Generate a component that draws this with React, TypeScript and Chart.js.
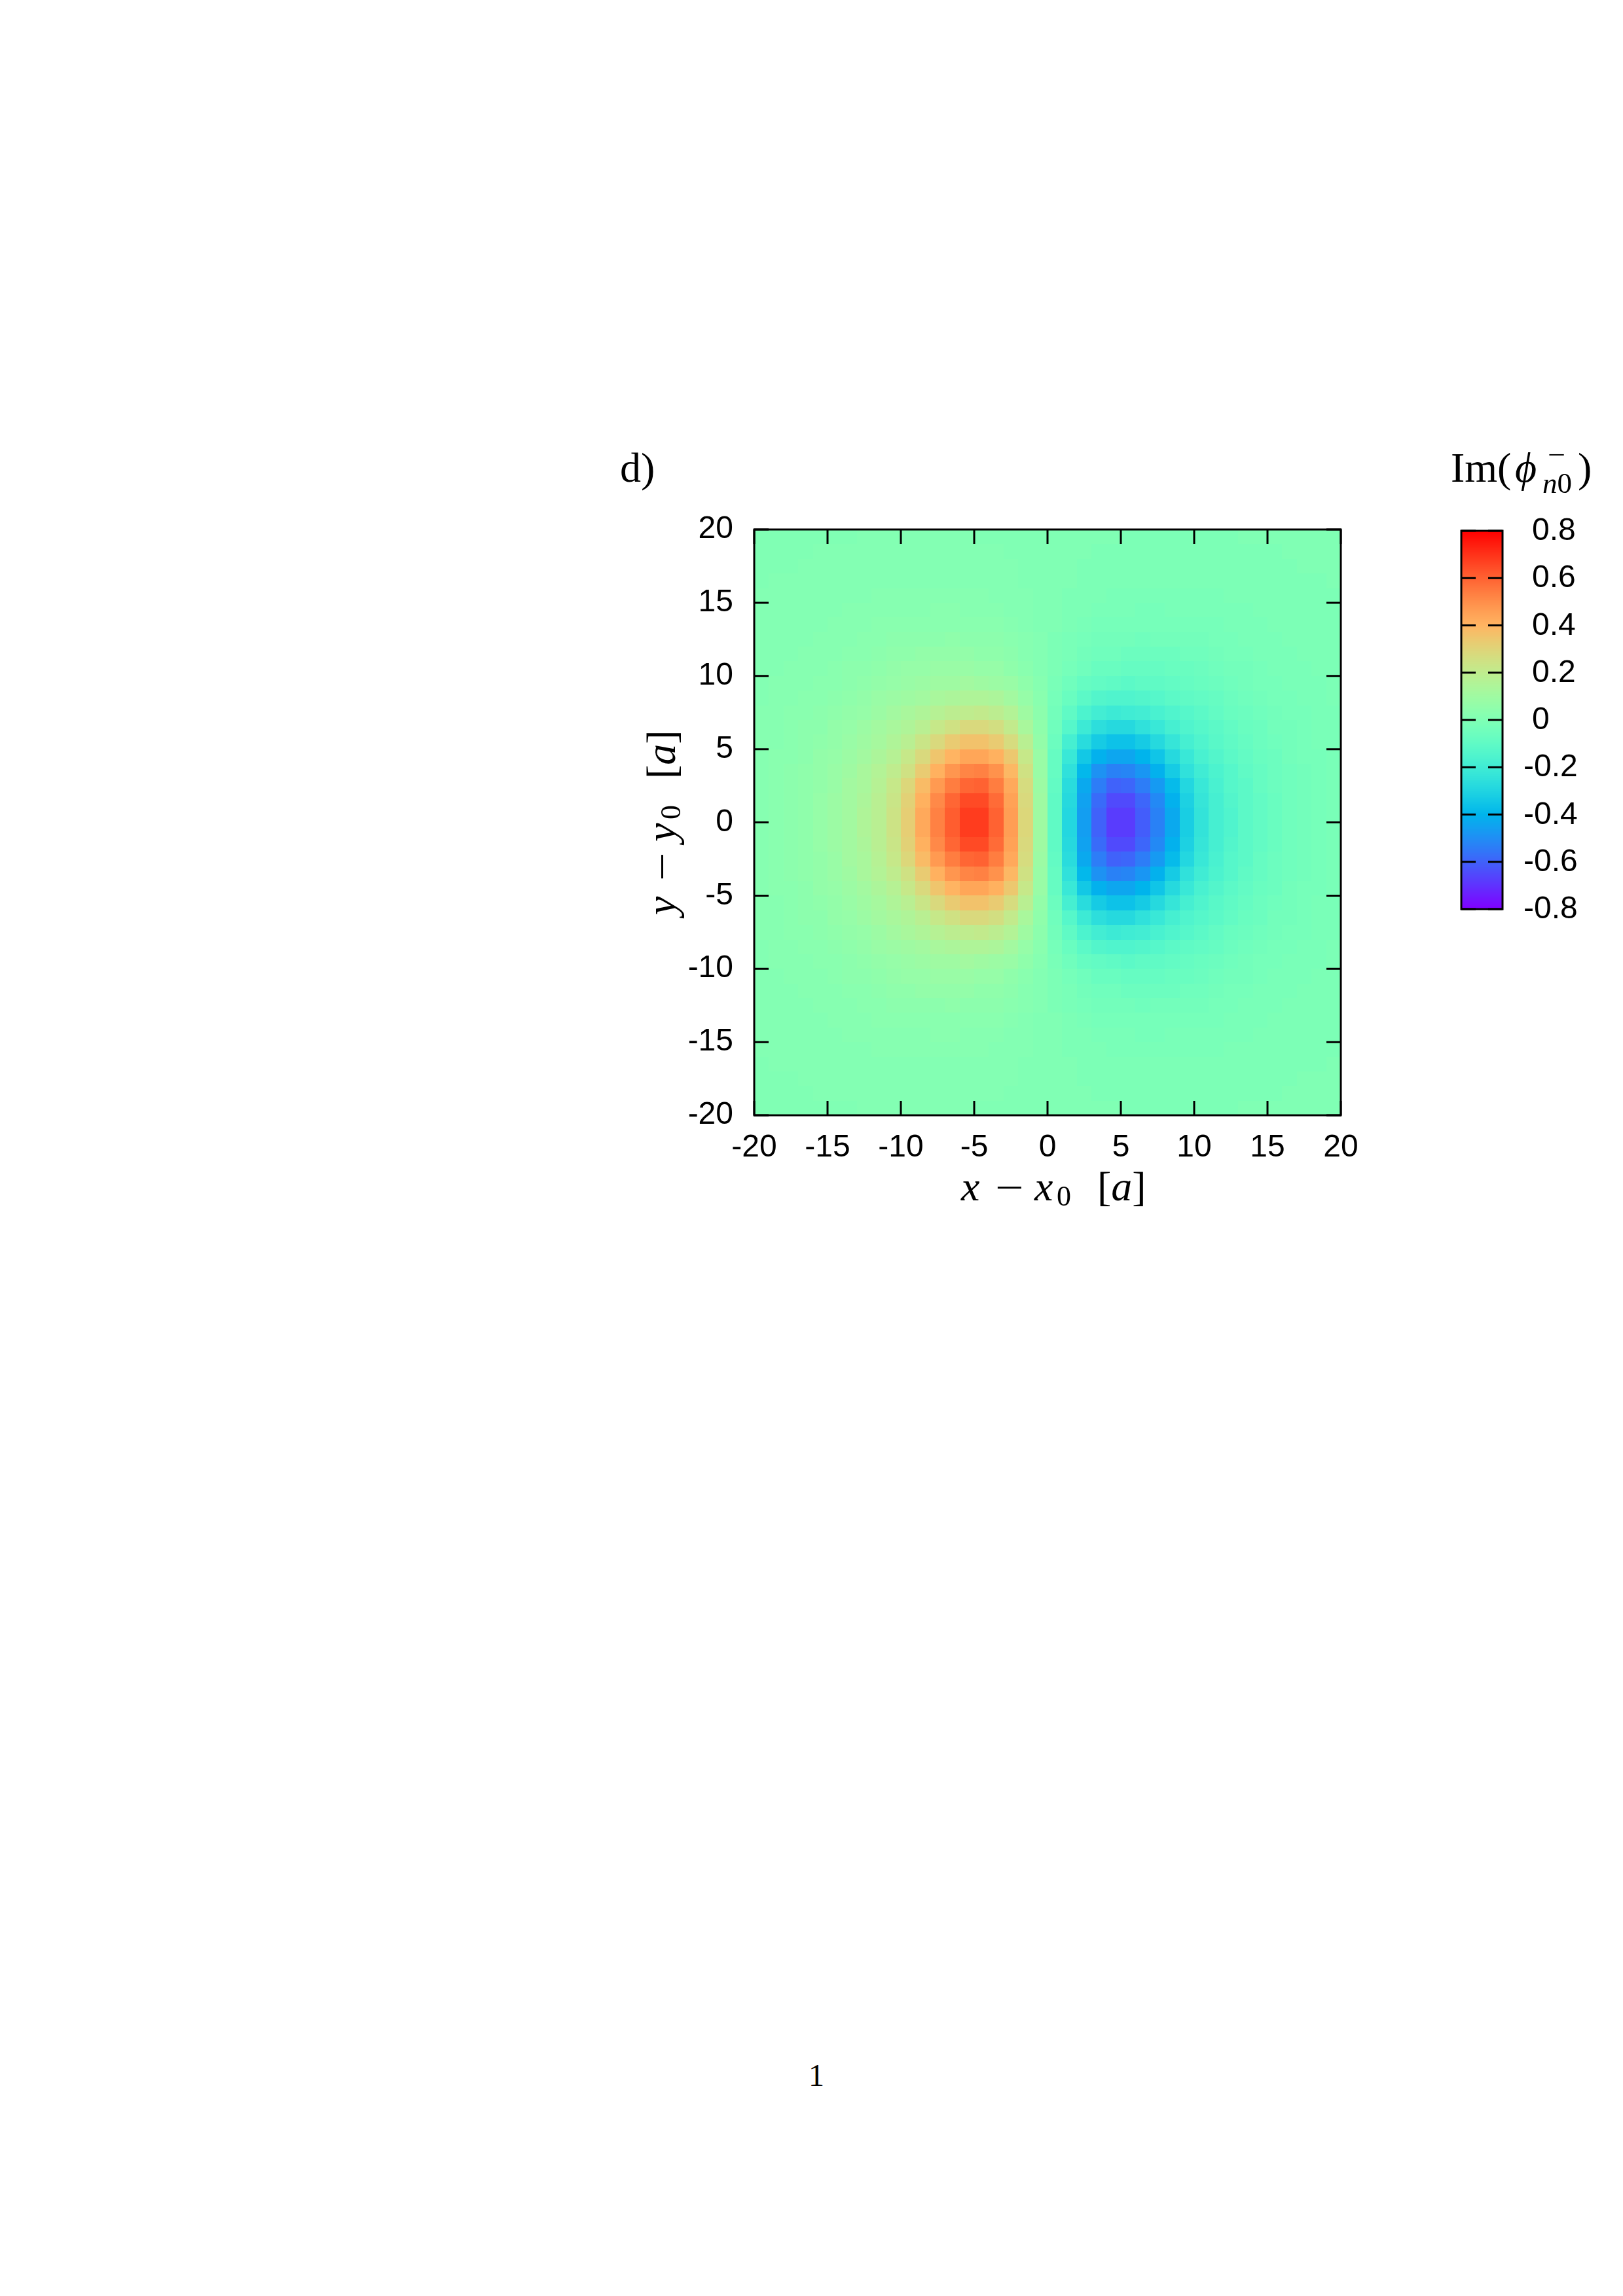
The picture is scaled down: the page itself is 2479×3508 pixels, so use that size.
import React, { useEffect, useRef } from "react";
import { Chart, registerables } from "chart.js";

Chart.register(...registerables);

// ---------------- data ----------------
// cell centres (units of a)
const X_CENTERS = [
  -19.5, -18.5, -17.5, -16.5, -15.5, -14.5, -13.5, -12.5, -11.5, -10.5,
  -9.5, -8.5, -7.5, -6.5, -5.5, -4.5, -3.5, -2.5, -1.5, -0.5,
  0.5, 1.5, 2.5, 3.5, 4.5, 5.5, 6.5, 7.5, 8.5, 9.5,
  10.5, 11.5, 12.5, 13.5, 14.5, 15.5, 16.5, 17.5, 18.5, 19.5,
];
const Y_CENTERS = [
  19.5, 18.5, 17.5, 16.5, 15.5, 14.5, 13.5, 12.5, 11.5, 10.5,
  9.5, 8.5, 7.5, 6.5, 5.5, 4.5, 3.5, 2.5, 1.5, 0.5,
  -0.5, -1.5, -2.5, -3.5, -4.5, -5.5, -6.5, -7.5, -8.5, -9.5,
  -10.5, -11.5, -12.5, -13.5, -14.5, -15.5, -16.5, -17.5, -18.5, -19.5,
];
// Im(phi) in hundredths, one row per Y_CENTERS entry, columns follow X_CENTERS
const IM_PHI_ROWS = [
  [0,0,0,0,0,0,0,1,1,1,1,1,1,1,1,0,0,0,0,0, 0,0,0,0,0,-1,-1,-1,-1,-1,-1,-1,-1,0,0,0,0,0,0,0],
  [0,0,0,0,1,1,1,1,1,1,1,1,1,1,1,1,1,0,0,0, 0,0,0,-1,-1,-1,-1,-1,-1,-1,-1,-1,-1,-1,-1,-1,0,0,0,0],
  [0,0,0,1,1,1,1,1,1,1,1,1,1,1,1,1,1,1,0,0, 0,0,-1,-1,-1,-1,-1,-1,-1,-1,-1,-1,-1,-1,-1,-1,-1,0,0,0],
  [0,1,1,1,1,1,1,1,1,1,1,1,1,1,1,1,1,1,0,0, 0,0,-1,-1,-1,-1,-1,-1,-1,-1,-1,-1,-1,-1,-1,-1,-1,-1,-1,0],
  [1,1,1,1,1,1,1,1,2,2,2,2,2,2,2,2,1,1,1,0, 0,-1,-1,-1,-2,-2,-2,-2,-2,-2,-2,-2,-1,-1,-1,-1,-1,-1,-1,-1],
  [1,1,1,1,1,1,2,2,2,2,2,2,3,3,2,2,2,1,1,0, 0,-1,-1,-2,-2,-2,-3,-3,-2,-2,-2,-2,-2,-2,-1,-1,-1,-1,-1,-1],
  [1,1,1,1,1,2,2,2,3,3,3,3,3,3,3,3,3,2,1,0, 0,-1,-2,-3,-3,-3,-3,-3,-3,-3,-3,-3,-2,-2,-2,-1,-1,-1,-1,-1],
  [1,1,1,1,2,2,2,3,3,4,4,4,4,5,4,4,4,3,2,1, -1,-2,-3,-4,-4,-4,-5,-4,-4,-4,-4,-3,-3,-2,-2,-2,-1,-1,-1,-1],
  [1,1,1,2,2,2,3,3,4,5,5,6,6,6,6,5,5,4,2,1, -1,-2,-4,-5,-5,-6,-6,-6,-6,-5,-5,-4,-3,-3,-2,-2,-2,-1,-1,-1],
  [1,1,2,2,2,3,4,4,5,6,7,7,8,8,8,7,7,5,3,1, -1,-3,-5,-7,-7,-8,-8,-8,-7,-7,-6,-5,-4,-4,-3,-2,-2,-2,-1,-1],
  [1,2,2,2,3,3,4,5,6,7,8,9,10,10,11,10,9,8,5,2, -2,-5,-8,-9,-10,-11,-10,-10,-9,-8,-7,-6,-5,-4,-3,-3,-2,-2,-2,-1],
  [1,2,2,3,3,4,5,6,8,9,10,11,13,14,15,15,14,11,7,3, -3,-7,-11,-14,-15,-15,-14,-13,-11,-10,-9,-8,-6,-5,-4,-3,-3,-2,-2,-1],
  [2,2,3,3,4,5,6,7,9,11,13,15,17,19,20,21,19,16,10,4, -4,-10,-16,-19,-21,-20,-19,-17,-15,-13,-11,-9,-7,-6,-5,-4,-3,-3,-2,-2],
  [2,2,3,4,4,6,7,9,11,13,15,18,22,25,28,28,26,21,13,5, -5,-13,-21,-26,-28,-28,-25,-22,-18,-15,-13,-11,-9,-7,-6,-4,-4,-3,-2,-2],
  [2,2,3,4,5,6,8,10,12,15,18,23,28,33,36,36,33,27,18,6, -6,-18,-27,-33,-36,-36,-33,-28,-23,-18,-15,-12,-10,-8,-6,-5,-4,-3,-2,-2],
  [2,3,3,4,6,7,9,11,14,17,22,28,35,40,44,44,41,34,22,8, -8,-22,-34,-41,-44,-44,-40,-35,-28,-22,-17,-14,-11,-9,-7,-6,-4,-3,-3,-2],
  [2,3,4,5,6,8,10,13,16,20,25,33,41,48,52,53,49,39,25,8, -8,-25,-39,-49,-53,-52,-48,-41,-33,-25,-20,-16,-13,-10,-8,-6,-5,-4,-3,-2],
  [2,3,4,5,6,8,11,13,17,22,29,38,47,54,59,60,54,43,27,9, -9,-27,-43,-54,-60,-59,-54,-47,-38,-29,-22,-17,-13,-11,-8,-6,-5,-4,-3,-2],
  [2,3,4,5,7,9,11,14,18,23,31,41,51,59,65,65,58,45,28,10, -10,-28,-45,-58,-65,-65,-59,-51,-41,-31,-23,-18,-14,-11,-9,-7,-5,-4,-3,-2],
  [2,3,4,5,7,9,11,15,18,24,32,43,53,61,68,68,60,46,29,10, -10,-29,-46,-60,-68,-68,-61,-53,-43,-32,-24,-18,-15,-11,-9,-7,-5,-4,-3,-2],
  [2,3,4,5,7,9,11,15,18,24,32,43,53,61,68,68,60,46,29,10, -10,-29,-46,-60,-68,-68,-61,-53,-43,-32,-24,-18,-15,-11,-9,-7,-5,-4,-3,-2],
  [2,3,4,5,7,9,11,14,18,23,31,41,51,59,65,65,58,45,28,10, -10,-28,-45,-58,-65,-65,-59,-51,-41,-31,-23,-18,-14,-11,-9,-7,-5,-4,-3,-2],
  [2,3,4,5,6,8,11,13,17,22,29,38,47,54,59,60,54,43,27,9, -9,-27,-43,-54,-60,-59,-54,-47,-38,-29,-22,-17,-13,-11,-8,-6,-5,-4,-3,-2],
  [2,3,4,5,6,8,10,13,16,20,25,33,41,48,52,53,49,39,25,8, -8,-25,-39,-49,-53,-52,-48,-41,-33,-25,-20,-16,-13,-10,-8,-6,-5,-4,-3,-2],
  [2,3,3,4,6,7,9,11,14,17,22,28,35,40,44,44,41,34,22,8, -8,-22,-34,-41,-44,-44,-40,-35,-28,-22,-17,-14,-11,-9,-7,-6,-4,-3,-3,-2],
  [2,2,3,4,5,6,8,10,12,15,18,23,28,33,36,36,33,27,18,6, -6,-18,-27,-33,-36,-36,-33,-28,-23,-18,-15,-12,-10,-8,-6,-5,-4,-3,-2,-2],
  [2,2,3,4,4,6,7,9,11,13,15,18,22,25,28,28,26,21,13,5, -5,-13,-21,-26,-28,-28,-25,-22,-18,-15,-13,-11,-9,-7,-6,-4,-4,-3,-2,-2],
  [2,2,3,3,4,5,6,7,9,11,13,15,17,19,20,21,19,16,10,4, -4,-10,-16,-19,-21,-20,-19,-17,-15,-13,-11,-9,-7,-6,-5,-4,-3,-3,-2,-2],
  [1,2,2,3,3,4,5,6,8,9,10,11,13,14,15,15,14,11,7,3, -3,-7,-11,-14,-15,-15,-14,-13,-11,-10,-9,-8,-6,-5,-4,-3,-3,-2,-2,-1],
  [1,2,2,2,3,3,4,5,6,7,8,9,10,10,11,10,9,8,5,2, -2,-5,-8,-9,-10,-11,-10,-10,-9,-8,-7,-6,-5,-4,-3,-3,-2,-2,-2,-1],
  [1,1,2,2,2,3,4,4,5,6,7,7,8,8,8,7,7,5,3,1, -1,-3,-5,-7,-7,-8,-8,-8,-7,-7,-6,-5,-4,-4,-3,-2,-2,-2,-1,-1],
  [1,1,1,2,2,2,3,3,4,5,5,6,6,6,6,5,5,4,2,1, -1,-2,-4,-5,-5,-6,-6,-6,-6,-5,-5,-4,-3,-3,-2,-2,-2,-1,-1,-1],
  [1,1,1,1,2,2,2,3,3,4,4,4,4,5,4,4,4,3,2,1, -1,-2,-3,-4,-4,-4,-5,-4,-4,-4,-4,-3,-3,-2,-2,-2,-1,-1,-1,-1],
  [1,1,1,1,1,2,2,2,3,3,3,3,3,3,3,3,3,2,1,0, 0,-1,-2,-3,-3,-3,-3,-3,-3,-3,-3,-3,-2,-2,-2,-1,-1,-1,-1,-1],
  [1,1,1,1,1,1,2,2,2,2,2,2,3,3,2,2,2,1,1,0, 0,-1,-1,-2,-2,-2,-3,-3,-2,-2,-2,-2,-2,-2,-1,-1,-1,-1,-1,-1],
  [1,1,1,1,1,1,1,1,2,2,2,2,2,2,2,2,1,1,1,0, 0,-1,-1,-1,-2,-2,-2,-2,-2,-2,-2,-2,-1,-1,-1,-1,-1,-1,-1,-1],
  [0,1,1,1,1,1,1,1,1,1,1,1,1,1,1,1,1,1,0,0, 0,0,-1,-1,-1,-1,-1,-1,-1,-1,-1,-1,-1,-1,-1,-1,-1,-1,-1,0],
  [0,0,0,1,1,1,1,1,1,1,1,1,1,1,1,1,1,1,0,0, 0,0,-1,-1,-1,-1,-1,-1,-1,-1,-1,-1,-1,-1,-1,-1,-1,0,0,0],
  [0,0,0,0,1,1,1,1,1,1,1,1,1,1,1,1,1,0,0,0, 0,0,0,-1,-1,-1,-1,-1,-1,-1,-1,-1,-1,-1,-1,-1,0,0,0,0],
  [0,0,0,0,0,0,0,1,1,1,1,1,1,1,1,0,0,0,0,0, 0,0,0,0,0,-1,-1,-1,-1,-1,-1,-1,-1,0,0,0,0,0,0,0],
];
const VALUE_UNIT = 0.01;
const CELL_SIZE = 1;
const AXIS_TICKS = [-20, -15, -10, -5, 0, 5, 10, 15, 20];
const CB_TICKS = [0.8, 0.6, 0.4, 0.2, 0, -0.2, -0.4, -0.6, -0.8];
const CB_MIN = -0.8;
const CB_MAX = 0.8;

// ---------------- styling ----------------
const SERIF = "'Liberation Serif', 'DejaVu Serif', serif";
const SANS = "'Liberation Sans', Arial, sans-serif";
const TICK_FONT = 48;
const TICK_LEN = 22;

// gnuplot rgbformulae 33,13,10
function paletteColor(v: number): string {
  let t = (v - CB_MIN) / (CB_MAX - CB_MIN);
  t = Math.max(0, Math.min(1, t));
  const r = Math.min(1, Math.abs(2 * t - 0.5));
  const g = Math.max(0, Math.min(1, Math.sin(Math.PI * t)));
  const b = Math.max(0, Math.min(1, Math.cos((Math.PI * t) / 2)));
  return `rgb(${Math.round(r * 255)},${Math.round(g * 255)},${Math.round(b * 255)})`;
}

const heatmapPlugin = {
  id: "heatmapCells",
  afterDatasetsDraw(chart: any) {
    const { ctx, chartArea: a } = chart;
    const xs = chart.scales.x;
    const ys = chart.scales.y;
    ctx.save();
    for (const c of chart.data.datasets[0].data) {
      const x0 = Math.round(xs.getPixelForValue(c.x - CELL_SIZE / 2));
      const x1 = Math.round(xs.getPixelForValue(c.x + CELL_SIZE / 2));
      const y0 = Math.round(ys.getPixelForValue(c.y + CELL_SIZE / 2));
      const y1 = Math.round(ys.getPixelForValue(c.y - CELL_SIZE / 2));
      ctx.fillStyle = paletteColor(c.v);
      ctx.fillRect(x0, y0, x1 - x0, y1 - y0);
    }
    ctx.strokeStyle = "#000";
    ctx.lineWidth = 3;
    ctx.strokeRect(a.left, a.top, a.right - a.left, a.bottom - a.top);
    ctx.beginPath();
    for (const t of xs.ticks) {
      const px = xs.getPixelForValue(t.value);
      ctx.moveTo(px, a.bottom);
      ctx.lineTo(px, a.bottom - TICK_LEN);
      ctx.moveTo(px, a.top);
      ctx.lineTo(px, a.top + TICK_LEN);
    }
    for (const t of ys.ticks) {
      const py = ys.getPixelForValue(t.value);
      ctx.moveTo(a.left, py);
      ctx.lineTo(a.left + TICK_LEN, py);
      ctx.moveTo(a.right, py);
      ctx.lineTo(a.right - TICK_LEN, py);
    }
    ctx.stroke();
    ctx.restore();
  },
};

const colorbarPlugin = {
  id: "colorbarDraw",
  afterDatasetsDraw(chart: any) {
    const { ctx, chartArea: a } = chart;
    const ys = chart.scales.y;
    ctx.save();
    for (let py = Math.floor(a.top); py < Math.ceil(a.bottom); py++) {
      ctx.fillStyle = paletteColor(ys.getValueForPixel(py + 0.5));
      ctx.fillRect(a.left, py, a.right - a.left, 1);
    }
    ctx.strokeStyle = "#000";
    ctx.lineWidth = 3;
    ctx.strokeRect(a.left, a.top, a.right - a.left, a.bottom - a.top);
    ctx.beginPath();
    for (const v of CB_TICKS) {
      const py = ys.getPixelForValue(v);
      ctx.moveTo(a.left, py);
      ctx.lineTo(a.left + TICK_LEN, py);
      ctx.moveTo(a.right, py);
      ctx.lineTo(a.right - TICK_LEN, py);
    }
    ctx.stroke();
    ctx.font = `${TICK_FONT}px ${SANS}`;
    ctx.fillStyle = "#000";
    ctx.textBaseline = "middle";
    ctx.textAlign = "left";
    for (const v of CB_TICKS) {
      const py = ys.getPixelForValue(v);
      const label = v === 0 ? "0" : v.toFixed(1);
      ctx.fillText(label, a.right + (v < 0 ? 32 : 45), py + 1);
    }
    ctx.restore();
  },
};

function Txt(props: any) {
  const { left, baseline, size, italic, children, family, style } = props;
  const fam = family || SERIF;
  const asc = fam === SANS ? 0.8465 : 0.8375;
  return (
    <div
      style={{
        position: "absolute",
        left,
        top: baseline - asc * size,
        fontSize: size,
        lineHeight: `${size}px`,
        fontFamily: fam,
        fontStyle: italic ? "italic" : "normal",
        whiteSpace: "nowrap",
        color: "#000",
        ...(style || {}),
      }}
    >
      {children}
    </div>
  );
}

function AxisLabel(props: any) {
  const { v, style } = props;
  const base = 55;
  return (
    <div style={{ position: "absolute", width: 300, height: 75, ...style }}>
      <Txt left={0} baseline={base} size={64} italic>{v}</Txt>
      <Txt
        left={52}
        baseline={base}
        size={62}
        style={{ transform: "scaleX(1.25)", transformOrigin: "0 0" }}
      >
        {"\u2212"}
      </Txt>
      <Txt left={112} baseline={base} size={64} italic>{v}</Txt>
      <Txt left={146} baseline={base + 8} size={44}>0</Txt>
      <Txt left={208} baseline={base} size={64}>
        [<i>a</i>]
      </Txt>
    </div>
  );
}

export default function App() {
  const mainRef = useRef<HTMLCanvasElement>(null);
  const cbRef = useRef<HTMLCanvasElement>(null);

  useEffect(() => {
    const cells: any[] = [];
    IM_PHI_ROWS.forEach((row, j) =>
      row.forEach((val, i) => {
        cells.push({ x: X_CENTERS[i], y: Y_CENTERS[j], v: val * VALUE_UNIT });
      })
    );
    const tickFont = { family: SANS, size: TICK_FONT };
    const main = new Chart(mainRef.current as HTMLCanvasElement, {
      type: "scatter",
      data: { datasets: [{ data: cells, pointRadius: 0, pointHoverRadius: 0 }] },
      options: {
        animation: false,
        responsive: false,
        events: [],
        layout: { padding: { top: 109, left: 0, right: 52, bottom: 0 } },
        plugins: { legend: { display: false }, tooltip: { enabled: false } },
        scales: {
          x: {
            type: "linear",
            min: -20,
            max: 20,
            grid: { display: false, drawTicks: false },
            border: { display: false },
            afterBuildTicks: (s: any) => {
              s.ticks = AXIS_TICKS.map((v) => ({ value: v }));
            },
            afterFit: (s: any) => {
              s.height = 196;
            },
            ticks: {
              font: tickFont,
              color: "#000",
              padding: 21,
              maxRotation: 0,
              autoSkip: false,
              callback: (v: any) => String(v),
            },
          },
          y: {
            type: "linear",
            min: -20,
            max: 20,
            grid: { display: false, drawTicks: false },
            border: { display: false },
            afterBuildTicks: (s: any) => {
              s.ticks = AXIS_TICKS.map((v) => ({ value: v }));
            },
            afterFit: (s: any) => {
              s.width = 252;
            },
            ticks: {
              font: tickFont,
              color: "#000",
              padding: 32,
              autoSkip: false,
              callback: (v: any) => String(v),
            },
          },
        },
      } as any,
      plugins: [heatmapPlugin],
    });

    const cb = new Chart(cbRef.current as HTMLCanvasElement, {
      type: "scatter",
      data: {
        datasets: [{ data: CB_TICKS.map((v) => ({ x: 0.5, y: v })), pointRadius: 0 }],
      },
      options: {
        animation: false,
        responsive: false,
        events: [],
        layout: { padding: { top: 111, left: 32, right: 184, bottom: 111 } },
        plugins: { legend: { display: false }, tooltip: { enabled: false } },
        scales: {
          x: { type: "linear", min: 0, max: 1, display: false },
          y: { type: "linear", min: CB_MIN, max: CB_MAX, display: false },
        },
      } as any,
      plugins: [colorbarPlugin],
    });

    return () => {
      main.destroy();
      cb.destroy();
    };
  }, []);

  return (
    <div style={{ position: "absolute", left: 0, top: 0, width: 2479, height: 3508, background: "#fff" }}>
      <canvas
        ref={mainRef}
        width={1200}
        height={1200}
        style={{ position: "absolute", left: 900, top: 700, width: 1200, height: 1200 }}
      />
      <canvas
        ref={cbRef}
        width={279}
        height={800}
        style={{ position: "absolute", left: 2200, top: 700, width: 279, height: 800 }}
      />
      <Txt left={947} baseline={737} size={64}>d)</Txt>
      <Txt left={2216} baseline={737} size={64}>Im(</Txt>
      <Txt left={2314} baseline={737} size={64} italic>{"\u03D5"}</Txt>
      <Txt left={2356} baseline={754} size={45}>
        <i>n</i>0
      </Txt>
      <Txt
        left={2364}
        baseline={708}
        size={40}
        style={{ transform: "scaleX(1.2)", transformOrigin: "0 0" }}
      >
        {"\u2212"}
      </Txt>
      <Txt left={2410} baseline={737} size={64}>)</Txt>
      <AxisLabel v="x" style={{ left: 1468, top: 1780 }} />
      <AxisLabel
        v="y"
        style={{ left: 977, top: 1398, transform: "rotate(-90deg)", transformOrigin: "0 0" }}
      />
      <Txt left={1235} baseline={3187} size={48}>1</Txt>
    </div>
  );
}
